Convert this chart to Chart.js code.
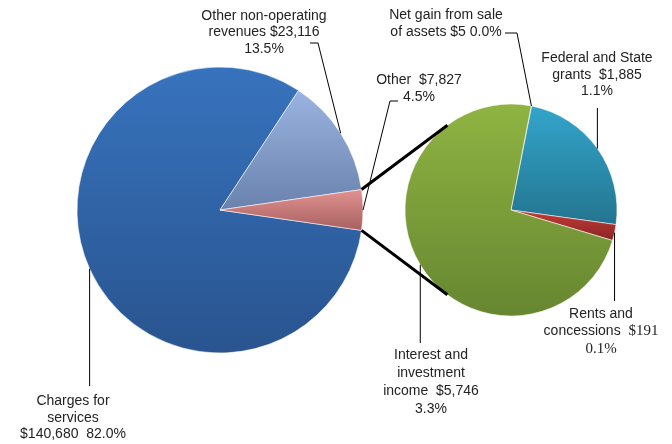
<!DOCTYPE html>
<html>
<head>
<meta charset="utf-8">
<script src="https://cdn.jsdelivr.net/npm/chart.js@4"></script>
<style>
  html, body { margin: 0; padding: 0; background: #fff; }
  #wrap { position: relative; width: 672px; height: 444px; }
  #wrap canvas { position: absolute; left: 0; top: 0; }
</style>
</head>
<body>
<div id="wrap">
  <canvas id="mainPie" width="672" height="444"></canvas>
  <canvas id="detailPie" width="672" height="444"></canvas>
</div>
<script>
// Revenue sources (thousands of dollars)
const mainCategories = ["Charges for services", "Other non-operating revenues", "Other"];
const mainValues = [140680, 23116, 7827];
const mainPercents = ["82.0%", "13.5%", "4.5%"];

// Breakdown of the "Other" slice
const otherCategories = ["Net gain from sale of assets", "Federal and State grants", "Rents and concessions", "Interest and investment income"];
const otherValues = [5, 1885, 191, 5746];
const otherPercents = ["0.0%", "1.1%", "0.1%", "3.3%"];

// ---- styling ----
const TEXT_FONT = '14px "Liberation Sans", Arial, sans-serif';
const SERIF_FONT = '15px "Liberation Serif", "Times New Roman", serif';
const TEXT_COLOR = '#232323';

const MAIN_RADIUS = 143, MAIN_ROTATION = 98.2;
const DETAIL_RADIUS = 106, DETAIL_ROTATION = 11.0;

const mainColors = [["#3773bd", "#29548f"], ["#9ab3e0", "#6a82ad"], ["#e09290", "#a86060"]];
const otherColors = [["#8a6cb0", "#5f4785"], ["#33a5ca", "#237590"], ["#c43c37", "#8a2424"], ["#8fb442", "#678631"]];

// label layout: text templates ({v} = value, {p} = percent), first baseline, line height, leader route
const mainLabelLayout = [
  { lines: ["Charges for", "services", "{v}  {p}"], x: 73, y: 405, lh: 16.7, drop: 386 },
  { lines: ["Other non-operating", "revenues {v}", "{p}"], x: 264, y: 20, lh: 16.4, route: [[318, 43], [310, 43]] },
  { lines: ["Other  {v}", "{p}"], x: 419, y: 84, lh: 17, route: [[390, 101], [398, 101]] }
];
const otherLabelLayout = [
  { lines: ["Net gain from sale", "of assets {v} {p}"], x: 446, y: 18.5, lh: 17.5, route: [[517, 33], [505, 33]] },
  { lines: ["Federal and State", "grants  {v}", "{p}"], x: 597, y: 62, lh: 16.5, drop: 108 },
  { lines: ["Rents and", "concessions  {v}", "{p}"], x: 601, y: 317.5, lh: 17.6, drop: 301, serifValues: true },
  { lines: ["Interest and", "investment", "income  {v}", "{p}"], x: 431, y: 358.5, lh: 18.1, drop: 343 }
];

const money = v => "$" + v.toLocaleString("en-US");

function sliceSpan(values, index, rotation) {
  const total = values.reduce((a, b) => a + b, 0);
  let start = rotation;
  for (let k = 0; k < index; k++) start += values[k] / total * 360;
  return [start, start + values[index] / total * 360];
}

function verticalExtent(cy, r, a0, a1) {
  const yAt = a => cy - r * Math.cos(a * Math.PI / 180);
  let top = Math.min(cy, yAt(a0), yAt(a1));
  let bot = Math.max(cy, yAt(a0), yAt(a1));
  for (let k = Math.ceil(a0 / 180) * 180; k <= a1; k += 180) {
    const y = yAt(k);
    top = Math.min(top, y);
    bot = Math.max(bot, y);
  }
  return [top, bot];
}

// vertical gradient spanning each slice's own height
function gradientFill(colors, radius, rotation) {
  return ctx => {
    const chart = ctx.chart, area = chart.chartArea;
    const pair = colors[ctx.dataIndex] || colors[0];
    if (!area || ctx.dataIndex === undefined) return pair[0];
    const cy = (area.top + area.bottom) / 2;
    const [a0, a1] = sliceSpan(ctx.dataset.data, ctx.dataIndex, rotation);
    const [y0, y1] = verticalExtent(cy, radius, a0, a1);
    const g = chart.ctx.createLinearGradient(0, y0, 0, Math.max(y1, y0 + 1));
    g.addColorStop(0, pair[0]);
    g.addColorStop(1, pair[1]);
    return g;
  };
}

// draws a centred line made of runs that may use different faces
function drawLine(ctx, runs, x, y) {
  let width = 0;
  runs.forEach(r => { ctx.font = r.font; r.w = ctx.measureText(r.text).width; width += r.w; });
  let cx = x - width / 2;
  runs.forEach(r => {
    ctx.font = r.font;
    ctx.fillText(r.text, cx, y);
    cx += r.w;
  });
}

function buildRuns(template, value, pct, serifValues) {
  const out = [];
  const numFont = serifValues ? SERIF_FONT : TEXT_FONT;
  template.split(/(\{v\}|\{p\})/).forEach(p => {
    if (!p) return;
    if (p === "{v}") out.push({ text: money(value), font: numFont });
    else if (p === "{p}") out.push({ text: pct, font: numFont });
    else out.push({ text: p, font: TEXT_FONT });
  });
  return out;
}

function labelPlugin(layout, values, percents) {
  return {
    id: 'sliceLabels',
    afterDraw(chart) {
      const ctx = chart.ctx;
      const arcs = chart.getDatasetMeta(0).data;
      ctx.save();
      // leader lines from the middle of each slice's rim
      ctx.strokeStyle = '#000';
      ctx.lineWidth = 1;
      arcs.forEach((arc, i) => {
        const spec = layout[i];
        const mid = (arc.startAngle + arc.endAngle) / 2;
        const ax = arc.x + arc.outerRadius * Math.cos(mid);
        const ay = arc.y + arc.outerRadius * Math.sin(mid);
        ctx.beginPath();
        ctx.moveTo(ax, ay);
        if (spec.drop !== undefined) {
          ctx.lineTo(ax, spec.drop);
        } else {
          spec.route.forEach(p => ctx.lineTo(p[0], p[1]));
        }
        ctx.stroke();
      });
      // label text
      ctx.fillStyle = TEXT_COLOR;
      ctx.textBaseline = 'alphabetic';
      ctx.textAlign = 'left';
      layout.forEach((spec, i) => {
        spec.lines.forEach((line, j) => {
          const runs = buildRuns(line, values[i], percents[i], spec.serifValues);
          drawLine(ctx, runs, spec.x, spec.y + j * spec.lh);
        });
      });
      ctx.restore();
    }
  };
}

function tangentPoint(px, py, cx, cy, r, upper) {
  const dx = px - cx, dy = py - cy, d = Math.hypot(dx, dy);
  const phi = Math.atan2(dy, dx), delta = Math.acos(r / d);
  const c1 = [cx + r * Math.cos(phi + delta), cy + r * Math.sin(phi + delta)];
  const c2 = [cx + r * Math.cos(phi - delta), cy + r * Math.sin(phi - delta)];
  return upper ? (c1[1] < c2[1] ? c1 : c2) : (c1[1] > c2[1] ? c1 : c2);
}

function baseOptions(padding, rotation) {
  return {
    responsive: false,
    animation: false,
    events: [],
    rotation: rotation,
    layout: { padding: padding },
    plugins: { legend: { display: false }, tooltip: { enabled: false } }
  };
}

const mainChart = new Chart(document.getElementById('mainPie'), {
  type: 'pie',
  data: {
    labels: mainCategories,
    datasets: [{
      data: mainValues,
      radius: MAIN_RADIUS,
      backgroundColor: gradientFill(mainColors, MAIN_RADIUS, MAIN_ROTATION),
      borderColor: 'rgba(255,255,255,0.55)',
      borderWidth: 1
    }]
  },
  options: baseOptions({ left: 77, right: 309, top: 67, bottom: 91 }, MAIN_ROTATION),
  plugins: [labelPlugin(mainLabelLayout, mainValues, mainPercents)]
});

// connector lines from the "Other" slice to the detail pie
const connectorPlugin = {
  id: 'pieConnectors',
  afterDatasetsDraw(chart) {
    const src = mainChart.getDatasetMeta(0).data[mainValues.length - 1];
    const dst = chart.getDatasetMeta(0).data[0];
    if (!src || !dst) return;
    const ctx = chart.ctx;
    const r0 = src.outerRadius;
    const p1 = [src.x + r0 * Math.cos(src.startAngle), src.y + r0 * Math.sin(src.startAngle)];
    const p2 = [src.x + r0 * Math.cos(src.endAngle), src.y + r0 * Math.sin(src.endAngle)];
    const top = p1[1] < p2[1] ? p1 : p2;
    const bot = p1[1] < p2[1] ? p2 : p1;
    const t1 = tangentPoint(top[0], top[1], dst.x, dst.y, dst.outerRadius, true);
    const t2 = tangentPoint(bot[0], bot[1], dst.x, dst.y, dst.outerRadius, false);
    ctx.save();
    ctx.strokeStyle = '#000';
    ctx.lineWidth = 3;
    ctx.beginPath();
    ctx.moveTo(top[0], top[1]); ctx.lineTo(t1[0], t1[1]);
    ctx.moveTo(bot[0], bot[1]); ctx.lineTo(t2[0], t2[1]);
    ctx.stroke();
    ctx.restore();
  }
};

const detailChart = new Chart(document.getElementById('detailPie'), {
  type: 'pie',
  data: {
    labels: otherCategories,
    datasets: [{
      data: otherValues,
      radius: DETAIL_RADIUS,
      backgroundColor: gradientFill(otherColors, DETAIL_RADIUS, DETAIL_ROTATION),
      borderColor: 'rgba(255,255,255,0.55)',
      borderWidth: 1
    }]
  },
  options: baseOptions({ left: 405, right: 55, top: 104, bottom: 128 }, DETAIL_ROTATION),
  plugins: [connectorPlugin, labelPlugin(otherLabelLayout, otherValues, otherPercents)]
});
</script>
</body>
</html>
